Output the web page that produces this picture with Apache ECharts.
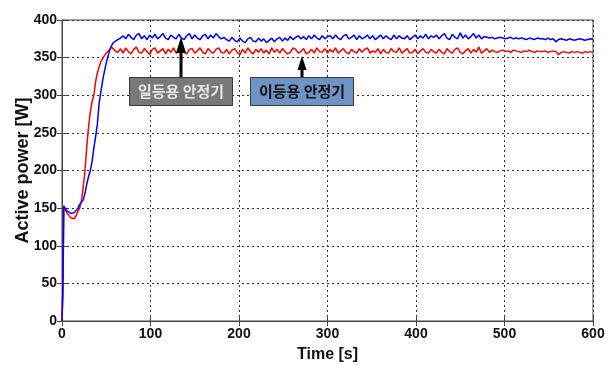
<!DOCTYPE html>
<html>
<head>
<meta charset="utf-8">
<script src="https://cdn.jsdelivr.net/npm/echarts@6/dist/echarts.min.js"></script>
<style>
html,body{margin:0;padding:0;background:#fff;}
#chart{width:614px;height:365px;}
</style>
</head>
<body>
<div id="chart"></div>
<script>
// Start-up transient (time in s)
var startTimes = [0,1,2,4,6,8,10,12,14,16,18,20,22,24,26,28,30,32,34,36,38,40,42,44,46,48,50,52,54,56,58,60];
var startRed   = [0,40,152,147,143,140,137,135,136,140,146,150,160,178,200,232,258,278,292,300,318,330,338,345,349,353,356,358,361,364,362,359];
var startBlue  = [0,40,153,149,146,144,143,142,144,147,150,155,158,161,170,182,192,200,212,230,245,262,290,305,320,332,343,352,360,366,370,372];

// Steady-state samples every 3 s from 63 s to 600 s
var steadyStart = 63, steadyStep = 3;
var steadyRed = [
357,362,356,363,358,355,361,364,357,356,362,358,354,361,363,356,359,362,355,361,357,363,356,359,364,357,355,361,362,356,359,363,357,355,362,358,356,361,363,357,
356,361,355,360,362,357,354,361,356,363,358,355,361,357,362,356,360,355,363,357,361,356,362,358,355,357,363,361,356,358,362,355,357,361,356,363,358,357,362,356,
361,357,363,356,359,362,357,355,361,358,356,362,357,361,363,356,359,357,362,355,361,357,356,362,358,357,363,356,359,362,356,357,361,355,359,362,357,356,361,358,
356,361,357,355,362,358,356,361,363,357,355,359,362,356,361,357,364,356,359,362,357,360,358,357,359,360,358,359,357,360,359,358,357,359,358,360,358,357,359,358,
358,359,357,358,359,358,354,357,358,357,356,358,357,358,357,356,358,357,358,357];
var steadyBlue = [
374,376,379,375,381,377,374,380,382,375,379,374,380,376,381,375,378,382,376,374,380,377,375,381,376,374,379,382,375,380,376,374,379,381,375,380,376,382,378,375,
377,374,372,377,373,371,376,372,370,375,377,372,371,376,372,375,370,373,376,371,375,377,372,376,373,378,374,377,379,375,378,374,379,375,380,376,374,379,375,378,
379,375,380,376,374,379,381,375,377,380,374,379,375,377,380,375,379,374,377,380,375,379,376,374,380,375,379,376,375,379,374,377,380,375,379,376,381,375,379,377,
380,375,379,382,376,374,381,377,375,383,376,380,375,378,382,376,380,375,378,377,376,377,375,376,377,376,375,376,377,375,376,375,376,375,374,376,375,374,376,375,
375,374,376,374,375,371,374,375,374,373,375,374,373,374,375,374,373,374,375,374];

var xTicks = [0,100,200,300,400,500,600];
var yTicks = [0,50,100,150,200,250,300,350,400];
var labelA = '일등용 안정기';
var labelB = '이등용 안정기';

function build(times, vals, sStart, sStep, sVals) {
  var out = [];
  for (var i = 0; i < times.length; i++) out.push([times[i], vals[i]]);
  for (var j = 0; j < sVals.length; j++) out.push([sStart + j * sStep, sVals[j]]);
  return out;
}
var redData = build(startTimes, startRed, steadyStart, steadyStep, steadyRed);
var blueData = build(startTimes, startBlue, steadyStart, steadyStep, steadyBlue);

var chart = echarts.init(document.getElementById('chart'));
var tickFont = {fontFamily: 'Liberation Sans, Arial, sans-serif', fontWeight: 'bold', fontSize: 14, color: '#111'};
var gridLine = {show: true, lineStyle: {type: [2, 3], color: '#333', width: 1}};
chart.setOption({
  animation: false,
  backgroundColor: '#fff',
  grid: {left: 62, right: 21, top: 20, bottom: 44, containLabel: false, outerBoundsMode: 'none',
         show: true, borderColor: '#444', borderWidth: 1, backgroundColor: 'transparent'},
  xAxis: [{
    type: 'value', min: xTicks[0], max: xTicks[xTicks.length - 1], interval: 100,
    name: 'Time [s]', nameLocation: 'middle', nameGap: 26, nameMoveOverlap: false,
    nameTextStyle: {fontFamily: 'Liberation Sans Narrow, Liberation Sans, Arial, sans-serif', fontWeight: 'bold', fontSize: 16, color: '#111'},
    axisLine: {show: true, lineStyle: {color: '#444', width: 1}},
    axisTick: {show: true, inside: true, length: 5, lineStyle: {color: '#444'}},
    axisLabel: Object.assign({margin: 6}, tickFont),
    splitLine: gridLine
  }, {
    type: 'value', position: 'top', min: 0, max: 600, interval: 100,
    axisLine: {show: true, lineStyle: {color: '#444'}},
    axisTick: {show: true, inside: true, length: 5, lineStyle: {color: '#444'}},
    axisLabel: {show: false}, splitLine: {show: false}
  }],
  yAxis: [{
    type: 'value', min: yTicks[0], max: yTicks[yTicks.length - 1], interval: 50,
    name: 'Active power [W]', nameLocation: 'middle', nameGap: 30, nameMoveOverlap: false,
    nameTextStyle: {fontFamily: 'Liberation Sans, Arial, sans-serif', fontWeight: 'bold', fontSize: 18, color: '#111'},
    axisLine: {show: true, lineStyle: {color: '#444', width: 1}},
    axisTick: {show: true, inside: true, length: 5, lineStyle: {color: '#444'}},
    axisLabel: Object.assign({margin: 5}, tickFont),
    splitLine: gridLine
  }, {
    type: 'value', position: 'right', min: 0, max: 400, interval: 50,
    axisLine: {show: true, lineStyle: {color: '#444'}},
    axisTick: {show: true, inside: true, length: 5, lineStyle: {color: '#444'}},
    axisLabel: {show: false}, splitLine: {show: false}
  }],
  series: [{
    type: 'line', data: redData, showSymbol: false, symbol: 'none',
    lineStyle: {color: '#ff0000', width: 1.5}, z: 2
  }, {
    type: 'line', data: blueData, showSymbol: false, symbol: 'none',
    lineStyle: {color: '#0000ff', width: 1.5}, z: 3
  }],
  graphic: [
    {type: 'rect', shape: {x: 129.5, y: 77.5, width: 103, height: 28}, style: {fill: '#787878', stroke: '#3a3a3a', lineWidth: 1}, z: 100},
    {type: 'text', x: 181, y: 91.5, style: {text: labelA, fill: '#e6e6e6', font: 'bold 15px "Noto Sans CJK KR", sans-serif', textAlign: 'center', textVerticalAlign: 'middle'}, z: 101},
    {type: 'rect', shape: {x: 250.5, y: 77.5, width: 103, height: 28}, style: {fill: '#7093c6', stroke: '#3a3a3a', lineWidth: 1}, z: 100},
    {type: 'text', x: 302, y: 91.5, style: {text: labelB, fill: '#111', font: 'bold 15px "Noto Sans CJK KR", sans-serif', textAlign: 'center', textVerticalAlign: 'middle'}, z: 101},
    {type: 'line', shape: {x1: 181, y1: 77, x2: 181, y2: 50}, style: {stroke: '#000', lineWidth: 3}, z: 100},
    {type: 'polygon', shape: {points: [[176, 53], [186, 53], [181, 37]]}, style: {fill: '#000'}, z: 100},
    {type: 'line', shape: {x1: 302, y1: 77, x2: 302, y2: 67}, style: {stroke: '#000', lineWidth: 3}, z: 100},
    {type: 'polygon', shape: {points: [[297.5, 70], [306.5, 70], [302, 56]]}, style: {fill: '#000'}, z: 100}
  ]
});
</script>
</body>
</html>
